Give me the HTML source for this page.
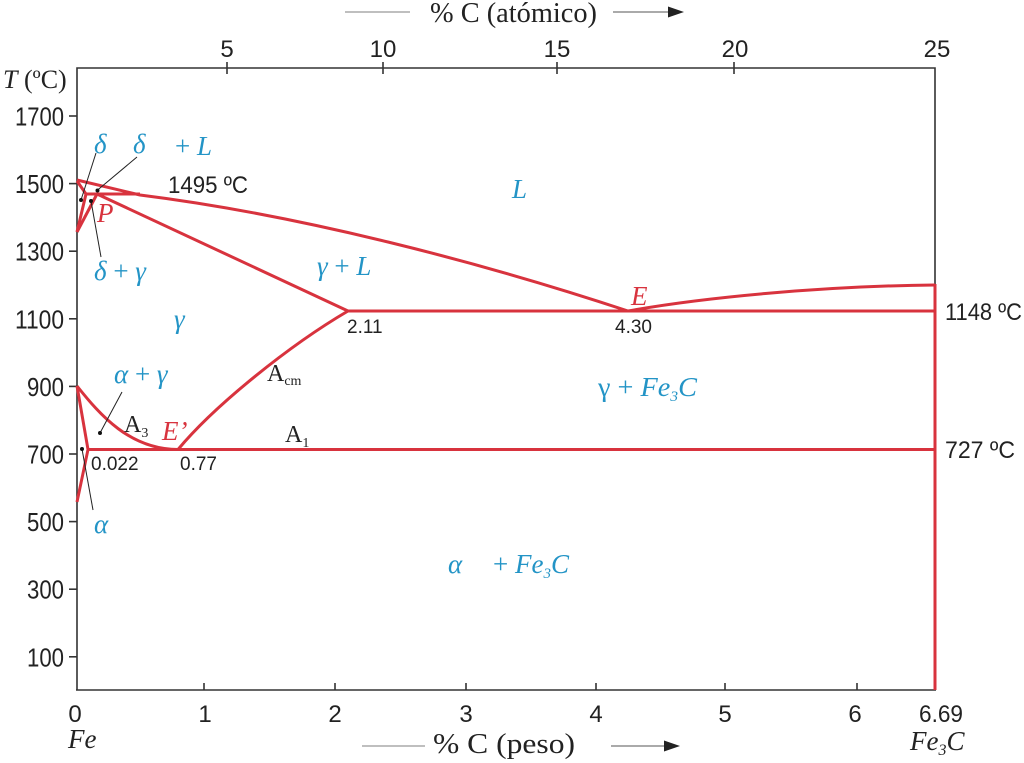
<!DOCTYPE html>
<html>
<head>
<meta charset="utf-8">
<style>
  html, body { margin: 0; padding: 0; background: #ffffff; }
  svg { display: block; }
  .ax { stroke: #333; stroke-width: 1.6; fill: none; }
  .red { stroke: #d8333e; stroke-width: 3; fill: none; stroke-linejoin: round; }
  .lead { stroke: #222; stroke-width: 1; fill: none; }
  .num { font-family: "Liberation Sans", sans-serif; font-size: 24px; fill: #222; }
  .ynum { font-family: "Liberation Sans", sans-serif; font-size: 26px; fill: #222; }
  .small { font-family: "Liberation Sans", sans-serif; font-size: 19px; fill: #222; }
  .blue { font-family: "Liberation Serif", serif; font-style: italic; font-size: 27px; fill: #2394c6; }
  .redt { font-family: "Liberation Serif", serif; font-style: italic; font-size: 27px; fill: #d8333e; }
  .ser { font-family: "Liberation Serif", serif; fill: #222; }
  .up { font-style: normal; }
</style>
</head>
<body>
<svg width="1024" height="763" viewBox="0 0 1024 763" xmlns="http://www.w3.org/2000/svg">
  <rect x="0" y="0" width="1024" height="763" fill="#fff"/>

  <!-- Frame -->
  <path class="ax" d="M77,690 L77,68 L935,68 L935,286"/>
  <line class="ax" x1="76" y1="690" x2="936" y2="690"/>

  <!-- Y ticks -->
  <g class="ax">
    <line x1="69" y1="116" x2="77" y2="116"/>
    <line x1="69" y1="183.6" x2="77" y2="183.6"/>
    <line x1="69" y1="251.2" x2="77" y2="251.2"/>
    <line x1="69" y1="318.8" x2="77" y2="318.8"/>
    <line x1="69" y1="386.4" x2="77" y2="386.4"/>
    <line x1="69" y1="454" x2="77" y2="454"/>
    <line x1="69" y1="521.6" x2="77" y2="521.6"/>
    <line x1="69" y1="589.2" x2="77" y2="589.2"/>
    <line x1="69" y1="656.8" x2="77" y2="656.8"/>
  </g>
  <g class="ynum" text-anchor="end">
    <text x="64" y="125.5" textLength="49" lengthAdjust="spacingAndGlyphs">1700</text>
    <text x="64" y="193.1" textLength="49" lengthAdjust="spacingAndGlyphs">1500</text>
    <text x="64" y="260.7" textLength="49" lengthAdjust="spacingAndGlyphs">1300</text>
    <text x="64" y="328.3" textLength="49" lengthAdjust="spacingAndGlyphs">1100</text>
    <text x="64" y="395.9" textLength="37" lengthAdjust="spacingAndGlyphs">900</text>
    <text x="64" y="463.5" textLength="37" lengthAdjust="spacingAndGlyphs">700</text>
    <text x="64" y="531.1" textLength="37" lengthAdjust="spacingAndGlyphs">500</text>
    <text x="64" y="598.7" textLength="37" lengthAdjust="spacingAndGlyphs">300</text>
    <text x="64" y="666.3" textLength="37" lengthAdjust="spacingAndGlyphs">100</text>
  </g>

  <!-- T (ºC) -->
  <text class="ser" x="3" y="88" font-size="26"><tspan font-style="italic">T</tspan> (ºC)</text>

  <!-- Top ticks -->
  <g class="ax">
    <line x1="227" y1="62" x2="227" y2="74"/>
    <line x1="383" y1="62" x2="383" y2="74"/>
    <line x1="557" y1="62" x2="557" y2="74"/>
    <line x1="734" y1="62" x2="734" y2="74"/>
  </g>
  <g class="num" text-anchor="middle">
    <text x="227" y="57">5</text>
    <text x="383" y="57">10</text>
    <text x="557" y="57">15</text>
    <text x="735" y="57">20</text>
    <text x="937" y="57">25</text>
  </g>

  <!-- Top title -->
  <line x1="345" y1="12" x2="410" y2="12" stroke="#999" stroke-width="1.2"/>
  <text class="ser" x="430" y="22" font-size="28" textLength="167" lengthAdjust="spacingAndGlyphs">% C (atómico)</text>
  <line x1="613" y1="12" x2="670" y2="12" stroke="#777" stroke-width="1.2"/>
  <polygon points="668,6.5 684,12 668,17.5" fill="#222"/>

  <!-- Bottom ticks -->
  <g class="ax">
    <line x1="204" y1="683" x2="204" y2="690"/>
    <line x1="335" y1="683" x2="335" y2="690"/>
    <line x1="466" y1="683" x2="466" y2="690"/>
    <line x1="596" y1="683" x2="596" y2="690"/>
    <line x1="725" y1="683" x2="725" y2="690"/>
    <line x1="857" y1="683" x2="857" y2="690"/>
  </g>
  <g class="num" text-anchor="middle">
    <text x="75" y="722">0</text>
    <text x="205" y="722">1</text>
    <text x="335" y="722">2</text>
    <text x="466" y="722">3</text>
    <text x="596" y="722">4</text>
    <text x="725" y="722">5</text>
    <text x="855" y="722">6</text>
    <text x="941" y="722" textLength="44" lengthAdjust="spacingAndGlyphs">6.69</text>
  </g>

  <!-- Bottom title -->
  <text class="ser" x="68" y="748" font-size="27" font-style="italic">Fe</text>
  <line x1="362" y1="746" x2="425" y2="746" stroke="#999" stroke-width="1.2"/>
  <text class="ser" x="433" y="753" font-size="28" textLength="142" lengthAdjust="spacingAndGlyphs">% C (peso)</text>
  <line x1="611" y1="746" x2="666" y2="746" stroke="#777" stroke-width="1.2"/>
  <polygon points="664,740.5 680,746 664,751.5" fill="#222"/>
  <text class="ser" x="910" y="750" font-size="27" font-style="italic">Fe<tspan font-size="16" dy="5">3</tspan><tspan dy="-5">C</tspan></text>

  <!-- Phase diagram red lines -->
  <path class="red" d="M77,180 L140,195 C300,215 480,262 628,311"/>
  <path class="red" d="M628,311 C700,298 820,286 935,285"/>
  <line class="red" x1="935" y1="284" x2="935" y2="690"/>
  <line class="red" x1="348" y1="311" x2="935" y2="311"/>
  <line class="red" x1="88" y1="449.5" x2="935" y2="449.5"/>
  <line class="red" x1="86" y1="194" x2="140" y2="194"/>
  <path class="red" d="M77,181 L86,194 L77,232"/>
  <path class="red" d="M97,194 L77,232"/>
  <path class="red" d="M97,194 L348,311"/>
  <path class="red" d="M178,449.5 C215,405 290,345 348,311"/>
  <path class="red" d="M77,386 C100,415 130,449.5 178,449.5"/>
  <path class="red" d="M77,386 L88,449.5 L77,502"/>

  <!-- Leader lines and dots -->
  <g class="lead">
    <line x1="81" y1="200" x2="96" y2="153"/>
    <line x1="97" y1="190.5" x2="137" y2="157"/>
    <line x1="91" y1="201" x2="101" y2="257"/>
    <line x1="100" y1="433" x2="122" y2="392"/>
    <line x1="82" y1="449" x2="93" y2="510"/>
  </g>
  <g fill="#111">
    <circle cx="81" cy="200" r="2"/>
    <circle cx="97.5" cy="190.5" r="2"/>
    <circle cx="91" cy="201" r="2"/>
    <circle cx="100" cy="433" r="2"/>
    <circle cx="82" cy="449" r="2"/>
  </g>

  <!-- Blue labels -->
  <text class="blue" x="94" y="153">δ</text>
  <text class="blue" x="133" y="153">δ</text>
  <text class="blue" x="175" y="155"><tspan class="up">+</tspan> L</text>
  <text class="blue" x="512" y="198" font-size="29">L</text>
  <text class="blue" x="94" y="280">δ <tspan class="up">+</tspan> γ</text>
  <text class="blue" x="317" y="275">γ <tspan class="up">+</tspan> L</text>
  <text class="blue" x="174" y="328">γ</text>
  <text class="blue" x="114" y="383">α <tspan class="up">+</tspan> γ</text>
  <text class="blue" x="598" y="396" textLength="99" lengthAdjust="spacingAndGlyphs"><tspan class="up">γ</tspan> <tspan class="up">+</tspan> Fe<tspan font-size="15" dy="5">3</tspan><tspan dy="-5">C</tspan></text>
  <text class="blue" x="94" y="533">α</text>
  <text class="blue" x="448" y="573">α</text>
  <text class="blue" x="493" y="573"><tspan class="up">+</tspan> Fe<tspan font-size="15" dy="5">3</tspan><tspan dy="-5">C</tspan></text>

  <!-- Red labels -->
  <text class="redt" x="97" y="222" font-size="28">P</text>
  <text class="redt" x="631" y="305">E</text>
  <text class="redt" x="162" y="440">E’</text>

  <!-- Black labels -->
  <text class="num" x="168" y="193" textLength="80" lengthAdjust="spacingAndGlyphs">1495 ºC</text>
  <text class="small" x="347" y="333">2.11</text>
  <text class="small" x="615" y="333">4.30</text>
  <text class="small" x="91" y="470">0.022</text>
  <text class="small" x="180" y="470">0.77</text>
  <text class="num" x="945" y="320" textLength="77" lengthAdjust="spacingAndGlyphs">1148 ºC</text>
  <text class="num" x="945" y="458" textLength="70" lengthAdjust="spacingAndGlyphs">727 ºC</text>

  <text class="ser" x="267" y="381" font-size="24">A<tspan font-size="14" dy="4">cm</tspan></text>
  <text class="ser" x="124" y="432" font-size="24">A<tspan font-size="14" dy="5">3</tspan></text>
  <text class="ser" x="285" y="442" font-size="24">A<tspan font-size="14" dy="5">1</tspan></text>
</svg>
</body>
</html>
